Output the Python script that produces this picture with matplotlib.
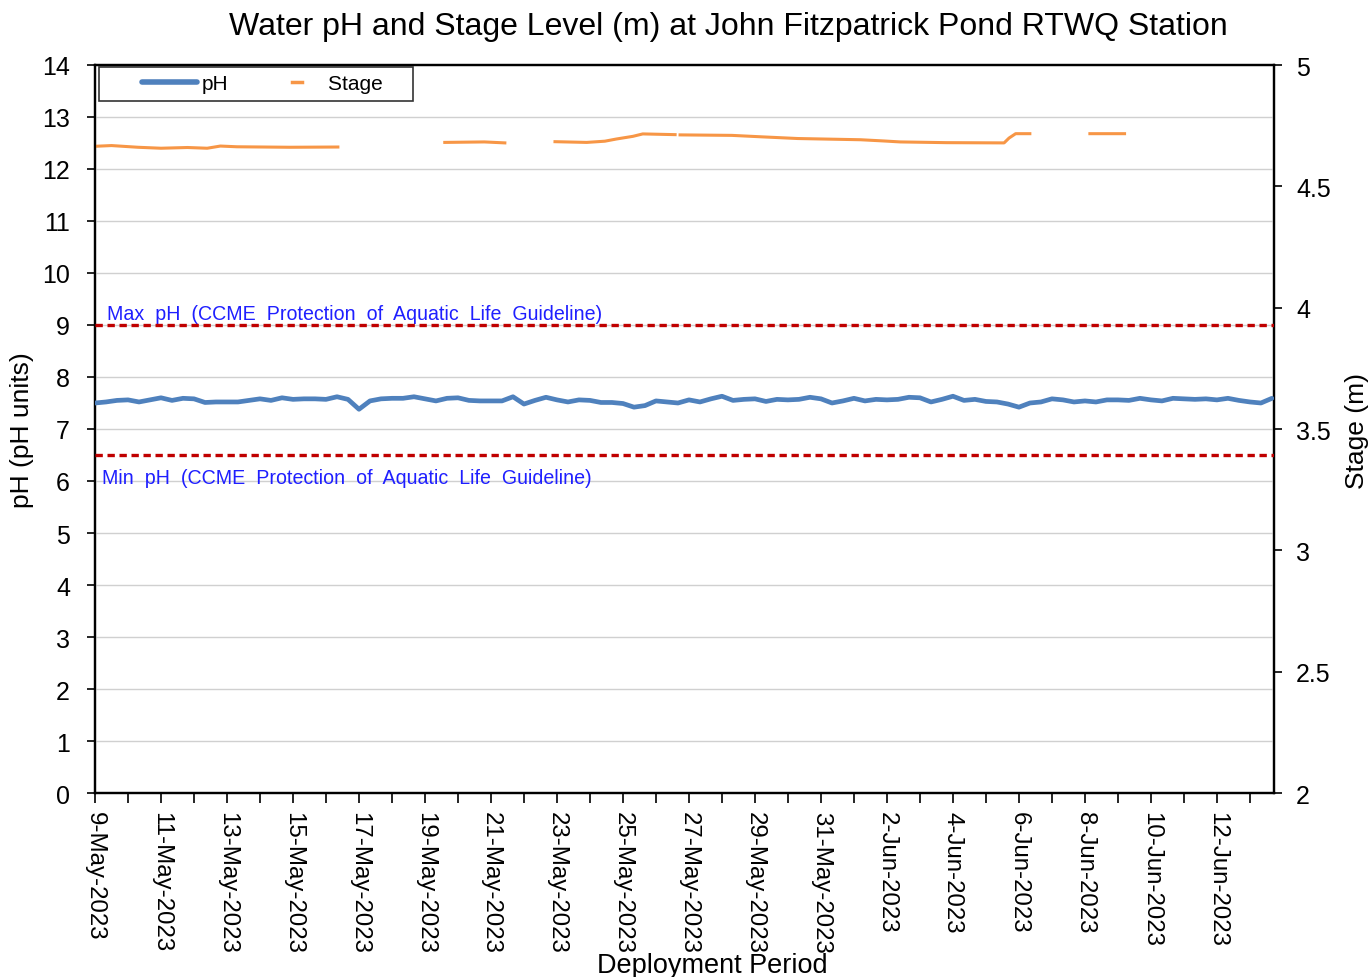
import numpy as np
import pandas as pd
import matplotlib
matplotlib.use("Agg")
import matplotlib.pyplot as plt
import matplotlib.dates as mdates
from matplotlib.lines import Line2D
from matplotlib.legend_handler import HandlerLine2D
from matplotlib.ticker import FuncFormatter, MultipleLocator, FixedLocator

plt.rcParams['font.family'] = ['Liberation Sans', 'DejaVu Sans']

# pH readings, one every 8 hours from 9-May-2023 00:00
ph_start = '2023-05-09 00:00'
ph_values = [
    7.50, 7.52, 7.55, 7.56, 7.52, 7.56, 7.60, 7.55, 7.59, 7.58,
    7.51, 7.52, 7.52, 7.52, 7.55, 7.58, 7.55, 7.60, 7.57, 7.58,
    7.58, 7.57, 7.62, 7.57, 7.38, 7.54, 7.58, 7.59, 7.59, 7.62,
    7.58, 7.54, 7.59, 7.60, 7.55, 7.54, 7.54, 7.54, 7.62, 7.48,
    7.55, 7.61, 7.56, 7.52, 7.56, 7.55, 7.51, 7.51, 7.49, 7.42,
    7.45, 7.54, 7.52, 7.50, 7.56, 7.52, 7.58, 7.63, 7.55, 7.57,
    7.58, 7.53, 7.57, 7.56, 7.57, 7.61, 7.58, 7.50, 7.54, 7.59,
    7.54, 7.57, 7.56, 7.57, 7.61, 7.60, 7.52, 7.57, 7.63, 7.55,
    7.57, 7.53, 7.52, 7.48, 7.42, 7.50, 7.52, 7.58, 7.56, 7.52,
    7.54, 7.52, 7.56, 7.56, 7.55, 7.59, 7.56, 7.54, 7.59, 7.58,
    7.57, 7.58, 7.56, 7.59, 7.55, 7.52, 7.50, 7.59,
]

# stage readings: days after 9-May-2023 00:00, NaN marks a gap in the record
stage_days = [
    0.0, 0.5, 1.3, 2.0, 2.8, 3.4, 3.8, 4.3, 5.9, 7.36, 7.5,
    10.6, 11.8, 12.42, 12.6,
    13.94, 14.9, 15.45, 15.8, 16.3, 16.6, 17.58, 17.65,
    17.73, 19.3, 20.2, 21.3, 23.2, 23.9, 24.4, 25.8, 27.55, 27.7, 27.9, 28.33, 28.5,
    30.15, 31.2,
]
stage_values = [
    4.665, 4.668, 4.661, 4.657, 4.660, 4.657, 4.666, 4.663, 4.661, 4.662, np.nan,
    4.681, 4.683, 4.679, np.nan,
    4.684, 4.681, 4.686, 4.695, 4.706, 4.716, 4.713, np.nan,
    4.712, 4.710, 4.704, 4.697, 4.692, 4.687, 4.683, 4.680, 4.679, 4.699, 4.717, 4.717, np.nan,
    4.717, 4.717,
]

ph_max = 9.0
ph_min = 6.5

x_start = pd.Timestamp('2023-05-09 00:00')
x_end = pd.Timestamp('2023-06-13 17:30')
label_dates = pd.date_range('2023-05-09', '2023-06-13', freq='2D')
minor_dates = pd.date_range('2023-05-09', '2023-06-13', freq='D')

ph_times = pd.date_range(ph_start, periods=len(ph_values), freq='8h')
stage_times = x_start + pd.to_timedelta(stage_days, unit='D')


class PartLine(HandlerLine2D):
    # draws the legend sample over only part of the handle box
    def __init__(self, f0, f1, **kw):
        super().__init__(**kw)
        self.f0, self.f1 = f0, f1

    def create_artists(self, legend, orig_handle, xdescent, ydescent, width, height, fontsize, trans):
        arts = super().create_artists(legend, orig_handle, xdescent, ydescent, width, height, fontsize, trans)
        y = (height - ydescent) / 2
        arts[0].set_xdata([-xdescent + width * self.f0, -xdescent + width * self.f1])
        arts[0].set_ydata([y, y])
        return arts


fig = plt.figure(figsize=(13.72, 9.78), dpi=100)
ax = fig.add_axes([95 / 1372, 1 - 794 / 978, (1274 - 95) / 1372, (794 - 66) / 978])
ax2 = ax.twinx()

ax.set_zorder(ax2.get_zorder() + 1)
ax.patch.set_visible(False)

ax.plot(ph_times, ph_values, color='#4f81bd', linewidth=3.4, solid_capstyle='round', zorder=4)
ax2.plot(stage_times, stage_values, color='#f79646', linewidth=2.2, zorder=3)

ax.axhline(ph_max, color='#c00000', linestyle=(0, (2.2, 1.4)), linewidth=2.4, zorder=5)
ax.axhline(ph_min, color='#c00000', linestyle=(0, (2.2, 1.4)), linewidth=2.4, zorder=5)

ax.text(mdates.date2num(x_start) + 0.37, 9.03, 'Max  pH  (CCME  Protection  of  Aquatic  Life  Guideline)',
        color='#1f1fff', fontsize=14.1, va='bottom', ha='left')
ax.text(mdates.date2num(x_start) + 0.21, 6.25, 'Min  pH  (CCME  Protection  of  Aquatic  Life  Guideline)',
        color='#1f1fff', fontsize=14.1, va='top', ha='left')

ax.set_ylim(0, 14)
ax.yaxis.set_major_locator(MultipleLocator(1))
ax2.set_ylim(2, 5)
ax2.yaxis.set_major_locator(MultipleLocator(0.5))
ax2.yaxis.set_major_formatter(FuncFormatter(lambda v, p: '{:g}'.format(v)))
ax.set_xlim(x_start, x_end)

ax.xaxis.set_major_locator(FixedLocator(mdates.date2num(label_dates)))
ax.xaxis.set_minor_locator(FixedLocator(mdates.date2num(minor_dates)))
ax.xaxis.set_major_formatter(FuncFormatter(
    lambda v, p: '{}-{}'.format(mdates.num2date(v).day, mdates.num2date(v).strftime('%b-%Y'))))

ax.grid(axis='y', color='#d0d0d0', linewidth=1.0)
ax.set_axisbelow(True)

for a in (ax, ax2):
    for s in a.spines.values():
        s.set_linewidth(1.6)
        s.set_color('black')

ax.tick_params(axis='y', direction='out', length=6, width=1.2, labelsize=18, pad=12)
ax.tick_params(axis='x', which='both', direction='out', length=7, width=1.2, labelsize=17.3, pad=6)
ax2.tick_params(axis='y', direction='out', length=6, width=1.2, labelsize=18, pad=10)
for lbl in ax.get_xticklabels():
    lbl.set_rotation(270)
    lbl.set_ha('center')
    lbl.set_va('top')

fig.text(22 / 1372, 1 - 430 / 978, 'pH (pH units)', fontsize=19, rotation=90, ha='center', va='center')
fig.text(1357 / 1372, 1 - 431 / 978, 'Stage (m)', fontsize=19, rotation=90, ha='center', va='center')
fig.text(712 / 1372, 1 - 966 / 978, 'Deployment Period', fontsize=19.5, ha='center', va='center')

fig.text(728 / 1372, 1 - 27 / 978, 'Water pH and Stage Level (m) at John Fitzpatrick Pond RTWQ Station',
         fontsize=23, ha='center', va='center')

ph_handle = Line2D([], [], color='#4f81bd', linewidth=4, solid_capstyle='round')
stage_handle = Line2D([], [], color='#f79646', linewidth=2.5)
leg = ax.legend([ph_handle, stage_handle], ['pH', 'Stage    '], ncol=2, loc='upper left',
                bbox_to_anchor=(0.003, 0.997), fontsize=15, frameon=True, fancybox=False,
                edgecolor='black', handlelength=4.5, columnspacing=0.2, handletextpad=0.1,
                borderpad=0.35, borderaxespad=0.0,
                handler_map={ph_handle: PartLine(0.39, 0.97), stage_handle: PartLine(0.64, 0.74)})
leg.get_frame().set_linewidth(1.2)
leg.set_zorder(10)

fig.savefig('out.png', dpi=100)
